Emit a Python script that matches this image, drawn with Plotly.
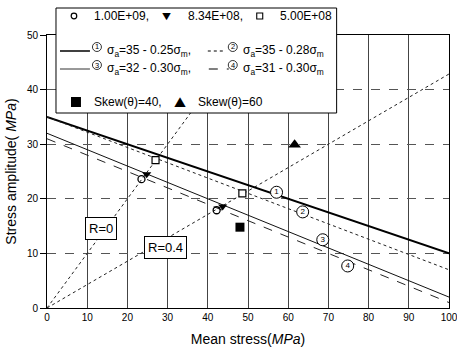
import plotly.graph_objects as go
import numpy as np

# ---------------- data ----------------
x_line = [0, 100]
line1_a, line1_b = 35, 0.25   # sigma_a = 35 - 0.25 sigma_m
line2_a, line2_b = 35, 0.28
line3_a, line3_b = 32, 0.30
line4_a, line4_b = 31, 0.30

r0_x = [0, 50]
r0_slope = 1.0            # R = 0
r04_x = [0, 100]
r04_slope = 0.6 / 1.4     # R = 0.4

circle_x = [23.5, 42.2]          # 1.00E+09
circle_y = [23.6, 17.9]
tri_x = [24.8, 43.7]             # 8.34E+08
tri_y = [24.5, 18.6]
sq_x = [27.0, 48.6]              # 5.00E+08
sq_y = [27.1, 21.0]
skew40_x = [48.0]
skew40_y = [14.8]
skew60_x = [61.6]
skew60_y = [29.9]

label_x = [57.1, 63.6, 68.6, 74.8]
label_y = [21.2, 17.6, 12.5, 7.7]
label_text = ["1", "2", "3", "4"]

x_ticks = [0, 10, 20, 30, 40, 50, 60, 70, 80, 90, 100]
y_ticks = [0, 10, 20, 30, 40, 50]

FONT = "Liberation Sans, Arial, sans-serif"
CJK = "Noto Sans CJK JP, DejaVu Sans, sans-serif"

fig = go.Figure()

def lin(a, b, xs):
    return [a - b * v for v in xs]

# reference lines R
fig.add_trace(go.Scatter(x=r0_x, y=[r0_slope * v for v in r0_x], mode="lines",
                         line=dict(color="#222", width=1, dash="dot"), showlegend=False))
fig.add_trace(go.Scatter(x=r04_x, y=[r04_slope * v for v in r04_x], mode="lines",
                         line=dict(color="#222", width=1, dash="dot"), showlegend=False))

# fitted lines
fig.add_trace(go.Scatter(x=x_line, y=lin(line1_a, line1_b, x_line), mode="lines",
                         line=dict(color="black", width=2), showlegend=False))
fig.add_trace(go.Scatter(x=x_line, y=lin(line2_a, line2_b, x_line), mode="lines",
                         line=dict(color="#222", width=1, dash="dot"), showlegend=False))
fig.add_trace(go.Scatter(x=x_line, y=lin(line3_a, line3_b, x_line), mode="lines",
                         line=dict(color="#111", width=1), showlegend=False))
fig.add_trace(go.Scatter(x=x_line, y=lin(line4_a, line4_b, x_line), mode="lines",
                         line=dict(color="#222", width=1, dash="dash"), showlegend=False))

# circled line labels
fig.add_trace(go.Scatter(x=label_x, y=label_y, mode="markers+text", text=label_text,
                         textposition="middle center",
                         textfont=dict(size=8, color="black", family=FONT),
                         marker=dict(symbol="circle", size=12, color="white",
                                     line=dict(width=1, color="black")),
                         showlegend=False))

# data points
fig.add_trace(go.Scatter(x=circle_x, y=circle_y, mode="markers",
                         marker=dict(symbol="circle-open", size=7, color="black", line=dict(width=1.3)),
                         showlegend=False))
fig.add_trace(go.Scatter(x=tri_x, y=tri_y, mode="markers",
                         marker=dict(symbol="triangle-down", size=8, color="black"),
                         showlegend=False))
fig.add_trace(go.Scatter(x=sq_x, y=sq_y, mode="markers",
                         marker=dict(symbol="square", size=7, color="white", line=dict(width=1.2, color="black")),
                         showlegend=False))
fig.add_trace(go.Scatter(x=skew40_x, y=skew40_y, mode="markers",
                         marker=dict(symbol="square", size=9, color="black"),
                         showlegend=False))
fig.add_trace(go.Scatter(x=skew60_x, y=skew60_y, mode="markers",
                         marker=dict(symbol="triangle-up", size=11, color="black"),
                         showlegend=False))

# ---------------- layout helpers ----------------
L, R_, T, B = 47, 449.5, 35, 308
def P(px, py):
    return (px - L) / (R_ - L), (B - py) / (B - T)

shapes = []
annotations = []

# legend box
x0, y0 = P(56, 113)
x1, y1 = P(337, 8)
shapes.append(dict(type="rect", xref="paper", yref="paper", x0=x0, y0=y0, x1=x1, y1=y1,
                   line=dict(color="black", width=1), fillcolor="white", layer="above"))

def seg(pxa, pxb, py, dash, width, color="black"):
    a = P(pxa, py); b = P(pxb, py)
    shapes.append(dict(type="line", xref="paper", yref="paper", x0=a[0], y0=a[1], x1=b[0], y1=b[1],
                       line=dict(color=color, width=width, dash=dash), layer="above"))

def txt(px, py, s, size=12, anchor="left", family=FONT):
    x, y = P(px, py)
    annotations.append(dict(xref="paper", yref="paper", x=x, y=y, text=s, showarrow=False,
                            xanchor=anchor, yanchor="middle",
                            font=dict(size=size, color="black", family=family)))

def box(kind, px, py, r, lw, fill):
    a = P(px - r, py + r); b = P(px + r, py - r)
    shapes.append(dict(type=kind, xref="paper", yref="paper", x0=a[0], y0=a[1], x1=b[0], y1=b[1],
                       line=dict(color="black", width=lw), fillcolor=fill, layer="above"))

def circ(px, py, digit, r=4.5):
    box("circle", px, py, r, 0.8, "white")
    txt(px, py, digit, 7.5, "center")

# row 1
box("circle", 74, 16, 2.8, 1.2, "white")
txt(92, 16, "1.00E+09,")
txt(167, 16, "▼", 9, "center", CJK)
txt(186, 16, "8.34E+08,")
box("rect", 260, 16, 3, 1.1, "white")
txt(278, 16, "5.00E+08")
# row 2
seg(60, 90, 51, "solid", 1.5)
circ(97, 47, "1")
txt(105, 51, "σ<sub>a</sub>=35 - 0.25σ<sub>m</sub>,")
seg(208, 224, 51, "dot", 1)
circ(233, 47, "2")
txt(241, 51, "σ<sub>a</sub>=35 - 0.28σ<sub>m</sub>")
# row 3
seg(60, 90, 69, "solid", 1, "#333")
circ(97, 65, "3")
txt(105, 69, "σ<sub>a</sub>=32 - 0.30σ<sub>m</sub>,")
seg(209, 229, 69, "dash", 1)
circ(233, 65, "4")
txt(241, 69, "σ<sub>a</sub>=31 - 0.30σ<sub>m</sub>")
# row 4
box("rect", 76, 102, 5, 0, "black")
txt(92, 102, "Skew(θ)=40,")
txt(180, 102, "▲", 12, "center", CJK)
txt(196, 102, "Skew(θ)=60")

# R boxes
for lx, ly, s in [(13.4, 14.5, "R=0"), (29.6, 11.0, "R=0.4")]:
    annotations.append(dict(x=lx, y=ly, text=s, showarrow=False, xref="x", yref="y",
                            bgcolor="white", bordercolor="black", borderwidth=1, borderpad=3,
                            font=dict(size=13, color="black", family=FONT)))

fig.update_layout(
    width=457, height=350,
    margin=dict(l=L, r=457 - R_, t=T, b=350 - B, autoexpand=False),
    paper_bgcolor="white", plot_bgcolor="white",
    font=dict(family=FONT, color="black"),
    shapes=shapes, annotations=annotations,
    showlegend=False,
)
fig.update_xaxes(range=[0, 100], tickvals=x_ticks, ticktext=[str(v) for v in x_ticks],
                 showline=True, linecolor="black", linewidth=1, mirror=True,
                 showgrid=True, gridcolor="#444", gridwidth=1,
                 ticks="", tickfont=dict(size=10), zeroline=False,
                 ticklabeloverflow="allow", automargin=False,
                 title=dict(text="Mean stress(<i>MPa</i>)", font=dict(size=14), standoff=12))
fig.update_yaxes(range=[0, 50], tickvals=y_ticks, ticktext=[str(v) for v in y_ticks],
                 showline=True, linecolor="black", linewidth=1, mirror=True,
                 showgrid=True, gridcolor="#555", gridwidth=1, griddash="dash",
                 ticks="outside", ticklen=6, tickcolor="black", tickfont=dict(size=10),
                 zeroline=False, automargin=False,
                 title=dict(text="Stress amplitude( <i>MPa</i>)", font=dict(size=14), standoff=6))

fig.write_html("out.html")
